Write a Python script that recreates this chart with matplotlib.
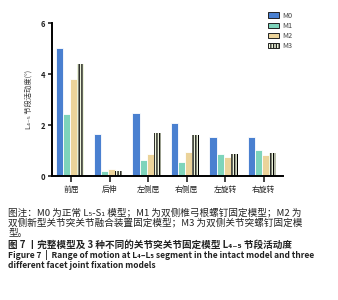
import numpy as np
import matplotlib
matplotlib.use('Agg')
import matplotlib.pyplot as plt

plt.rcParams['font.family'] = ['Noto Sans CJK SC', 'DejaVu Sans']
plt.rcParams['hatch.linewidth'] = 0.9
plt.rcParams['axes.unicode_minus'] = False

categories = ['前屈', '后伸', '左侧屈', '右侧屈', '左旋转', '右旋转']
series_names = ['M0', 'M1', 'M2', 'M3']
m0 = [5.03, 1.67, 2.48, 2.07, 1.54, 1.54]
m1 = [2.43, 0.21, 0.63, 0.56, 0.85, 1.02]
m2 = [3.80, 0.26, 0.86, 0.94, 0.76, 0.81]
m3 = [4.38, 0.20, 1.70, 1.62, 0.87, 0.91]
yticks = [0, 2, 4, 6]

colors = ['#4a80d0', '#7ed4bb', '#ebd39a', '#eef5dc']
hatches = [None, None, None, '||||||']

fig = plt.figure(figsize=(3.38, 3.0), dpi=100)
ax = fig.add_axes([0.154, 0.413, 0.683, 0.51])

x = np.arange(len(categories))
w = 0.185
for i, vals in enumerate([m0, m1, m2, m3]):
    ax.bar(x + (i - 1.5) * w - 0.04, vals, w, color=colors[i], edgecolor='white' if i < 3 else 'black',
           linewidth=0.6 if i < 3 else 0, hatch=hatches[i], label=series_names[i])

ax.set_xlim(-0.5, 5.5)
ax.set_ylim(0, 6)
ax.set_yticks(yticks)
ax.set_xticks(x)
ax.set_xticklabels(categories, fontsize=5.6, color='#333333')
ax.tick_params(axis='y', labelsize=5.5, length=3, width=1.2, pad=2, colors='#222222')
ax.tick_params(axis='x', length=4, width=1.2, pad=3, colors='#222222')
for lab in ax.get_yticklabels():
    lab.set_fontweight('bold')
ax.spines['top'].set_visible(False)
ax.spines['right'].set_visible(False)
ax.spines['left'].set_linewidth(1.4)
ax.spines['bottom'].set_linewidth(1.4)
ax.set_ylabel('L₄₋₅ 节段活动度(°)', fontsize=5.2, color='#333333', labelpad=6)

leg = ax.legend(loc='upper left', bbox_to_anchor=(0.935, 1.075), frameon=False, fontsize=5.3,
                handlelength=1.5, handleheight=0.7, labelspacing=0.3, handletextpad=0.4,
                borderpad=0, borderaxespad=0)
for t in leg.get_texts():
    t.set_color('#444444')
for h in leg.legend_handles:
    h.set_edgecolor('#222222')
    h.set_linewidth(0.7)

# caption lines (y in pixels from top)
cap = 6.9
fig.text(0.024, 1 - 212.3 / 300, '图注：M0 为正常 L₅-S₁ 模型；M1 为双侧椎弓根螺钉固定模型；M2 为',
         fontsize=cap, color='#222222', va='center')
fig.text(0.024, 1 - 223 / 300, '双侧新型关节突关节融合装置固定模型；M3 为双侧关节突螺钉固定模',
         fontsize=cap, color='#222222', va='center')
fig.text(0.024, 1 - 233.5 / 300, '型。', fontsize=cap, color='#222222', va='center')
fig.text(0.024, 1 - 244.3 / 300, '图 7 丨完整模型及 3 种不同的关节突关节固定模型 L₄₋₅ 节段活动度',
         fontsize=cap, color='#222222', va='center', fontweight='bold')
fig.text(0.024, 1 - 254.7 / 300, 'Figure 7  |  Range of motion at L₄–L₅ segment in the intact model and three',
         fontsize=6.1, color='#222222', va='center', fontweight='bold')
fig.text(0.024, 1 - 265 / 300, 'different facet joint fixation models',
         fontsize=6.1, color='#222222', va='center', fontweight='bold')

fig.savefig('out.png', dpi=100)
